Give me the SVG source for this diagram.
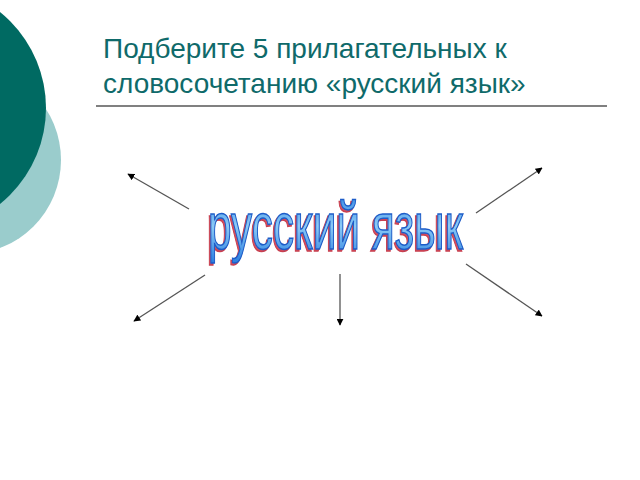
<svg xmlns="http://www.w3.org/2000/svg" width="640" height="480" viewBox="0 0 640 480">
<defs>
<marker id="ah" viewBox="0 0 10 10" refX="9" refY="5" markerWidth="7" markerHeight="7" markerUnits="userSpaceOnUse" orient="auto">
<path d="M0,0 L10,5 L0,10 z" fill="#000"/>
</marker>
<linearGradient id="wa" x1="0" y1="0" x2="0" y2="1">
<stop offset="0" stop-color="#2a7ee0"/>
<stop offset="0.5" stop-color="#8ccbf6"/>
<stop offset="1" stop-color="#2a7ee0"/>
</linearGradient>
</defs>
<style>
.title{font-family:"Liberation Sans",Arial,sans-serif;font-size:28px;fill:#0f6a6a}
.conn line{stroke:#555;stroke-width:1.3;marker-end:url(#ah)}
.wa{font-family:"Liberation Sans",Arial,sans-serif;font-size:66px}
</style>
<rect width="640" height="480" fill="#fff"/>
<g id="decor">
<circle cx="-33" cy="160" r="94" fill="#9acccc"/>
<circle cx="-77" cy="108" r="123" fill="#006a62"/>
</g>
<g id="title">
<text class="title" x="103" y="58">Подберите 5 прилагательных к</text>
<text class="title" x="103" y="93">словосочетанию «русский язык»</text>
<line x1="96" y1="106" x2="607" y2="106" stroke="#808080" stroke-width="2"/>
</g>
<g id="center">
<text class="wa" x="206.5" y="250.5" textLength="255" lengthAdjust="spacingAndGlyphs" fill="#d85060" stroke="#c84050" stroke-width="1.5">русский язык</text>
<text class="wa" x="208" y="249" textLength="255" lengthAdjust="spacingAndGlyphs" fill="url(#wa)" stroke="#1d5cc8" stroke-width="1.5">русский язык</text>
</g>
<g id="connectors" class="conn">
<line x1="189" y1="209" x2="128" y2="174"/>
<line x1="476" y1="213" x2="542" y2="168"/>
<line x1="205" y1="275" x2="134" y2="321"/>
<line x1="340" y1="274" x2="340" y2="325"/>
<line x1="466" y1="264" x2="542" y2="316"/>
</g>
</svg>
